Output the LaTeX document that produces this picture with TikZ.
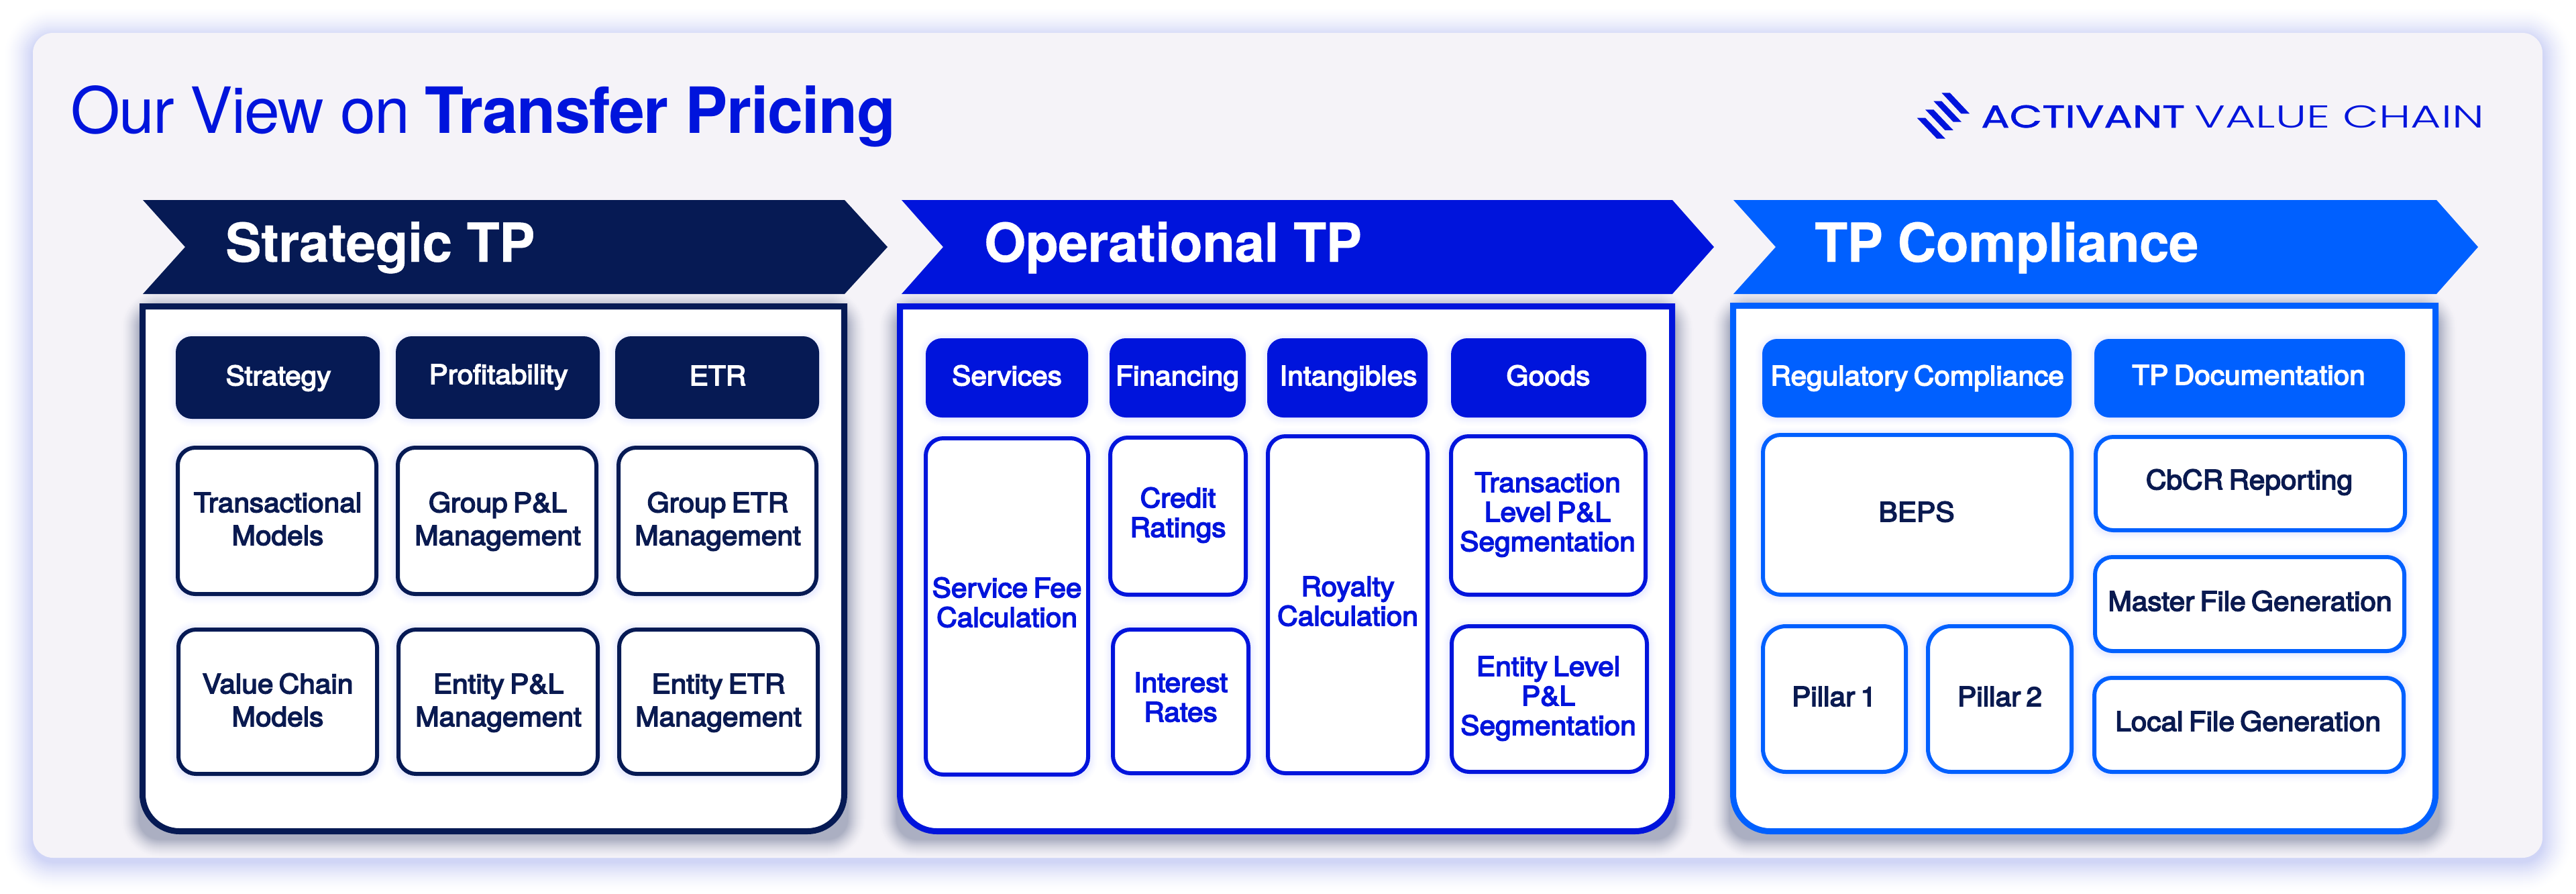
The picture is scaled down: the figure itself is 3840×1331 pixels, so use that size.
\documentclass[tikz,border=0pt]{standalone}
\usepackage{fontspec}
\setmainfont{TeX Gyre Heros}
\newfontfamily\titleface[LetterSpace=-2.1,BoldFeatures={LetterSpace=-1.5}]{TeX Gyre Heros}
\newfontfamily\chevface[LetterSpace=-0.7,FakeBold=0.5]{TeX Gyre Heros Bold}
\newfontfamily\cellface[FakeBold=4,FakeStretch=1.06,WordSpace=0.7]{TeX Gyre Heros}
\newfontfamily\logoboldface[FakeBold=1.5,FakeStretch=1.34]{Poppins}
\newfontfamily\logolightface[FakeStretch=1.485]{Poppins Light}
\definecolor{navy}{HTML}{061A54}
\definecolor{royal}{HTML}{0014DC}
\definecolor{bright}{HTML}{0060FF}
\definecolor{panelbg}{HTML}{F5F3F8}
\definecolor{glowpanel}{HTML}{D0D5F6}
\definecolor{glowbox}{HTML}{ABAFC2}
\definecolor{glowcell}{HTML}{ECEEFF}
\definecolor{inktext}{HTML}{0A1A50}
% soft shadow in opaque steps: x1 y1 x2 y2 radius spread dy inner-colour bg-colour
\newcommand{\softglow}[9]{%
  \foreach \gi in {#6,...,1}{%
    \pgfmathsetmacro{\gr}{#5+\gi}%
    \pgfmathtruncatemacro{\gt}{100*((#6-\gi+1)/#6)^1.6}%
    \fill[{#8!\gt!#9},rounded corners=\gr pt]
      ({#1-\gi},{#2-\gi+#7}) rectangle ({#3+\gi},{#4+\gi+#7});
  }%
}
% cell: name x1 y1 x2 y2 style radius
\newcommand{\mkcell}[7]{%
  \softglow{#2}{#3}{#4}{#5}{#7}{12}{1}{glowcell}{white}
  \pgfmathsetmacro{\cw}{#4-#2-6}%
  \pgfmathsetmacro{\ch}{#5-#3-6}%
  \node[#6,rounded corners=#7 pt,minimum width=\cw pt,minimum height=\ch pt] (#1) at ({(#2+#4)/2},{(#3+#5)/2}) {};
}
\newcommand{\mkhead}[7]{%
  \softglow{#2}{#3}{#4}{#5}{#7}{12}{1}{glowcell}{white}
  \pgfmathsetmacro{\cw}{#4-#2}%
  \pgfmathsetmacro{\ch}{#5-#3}%
  \node[#6,rounded corners=#7 pt,minimum width=\cw pt,minimum height=\ch pt] (#1) at ({(#2+#4)/2},{(#3+#5)/2}) {};
}
% container box: x1 y1 x2 y2 colour
\newcommand{\mkbox}[5]{%
  \draw[#5,line width=9pt,fill=white,line join=miter]
    ({#1+4.5},{#2+4.5}) -- ({#3-4.5},{#2+4.5})
    {[rounded corners=55pt] -- ({#3-4.5},{#4-4.5}) -- ({#1+4.5},{#4-4.5})} -- cycle;
}
% chevron: x-left notch shoulder tip colour
\newcommand{\mkchev}[5]{%
  \fill[#5] (#1,298) -- (#3,298) -- (#4,368) -- (#3,438) -- (#1,438) -- (#2,368) -- cycle;
}
\tikzset{
  x=1pt,y=-1pt,
  headbox/.style={rectangle,inner sep=0pt,fill=#1,draw=none},
  cellbox/.style={rectangle,inner sep=0pt,fill=white,draw=#1,line width=6pt},
  celltext/.style={anchor=base,inner sep=0pt,align=center,text=#1,font=\cellface\fontsize{40}{44}\selectfont},
  cellwide/.style={anchor=base,inner sep=0pt,align=center,text=#1,font=\cellface\fontsize{40}{49}\selectfont},
  headtext/.style={anchor=base,inner sep=0pt,text=white,font=\cellface\fontsize{40}{44}\selectfont},
  chevtext/.style={anchor=base west,inner sep=0pt,text=white,font=\chevface\fontsize{80}{88}\selectfont},
  logotext/.style={anchor=base west,inner sep=0pt,text=royal},
}
\begin{document}
\begin{tikzpicture}
\useasboundingbox (0,0) rectangle (3840,1331);
\fill[white] (0,0) rectangle (3840,1331);
% panel
\softglow{49}{49}{3790}{1278}{30}{44}{6}{glowpanel}{white}
\fill[panelbg,rounded corners=30pt] (49,49) rectangle (3790,1278);
% box shadows
\softglow{208}{452}{1263}{1243}{30}{28}{7}{glowbox}{panelbg}
\softglow{1337}{452}{2497}{1243}{30}{28}{7}{glowbox}{panelbg}
\softglow{2579}{451}{3635}{1243}{30}{28}{7}{glowbox}{panelbg}
% title
\node[anchor=base west,inner sep=0pt,text=royal,font=\titleface\fontsize{95}{100}\selectfont] (title) at (105,198) {Our View on \textbf{Transfer Pricing}};
% logo
\fill[royal] (2894.3,138.3) -- (2906.7,138.3) -- (2936,169.3) -- (2923.3,169.3) -- cycle;
\fill[royal] (2882.3,150.7) -- (2894.3,150.7) -- (2924,181.7) -- (2911.7,181.7) -- cycle;
\fill[royal] (2870,163.3) -- (2882.3,163.3) -- (2911.7,194) -- (2899.3,194) -- cycle;
\fill[royal] (2857.7,175.7) -- (2870,175.7) -- (2900,206.7) -- (2887.3,206.7) -- cycle;
\node[logotext,font=\logoboldface\fontsize{47}{50}\selectfont] (logoa) at (2953,190) {ACTIVANT};
\node[logotext,font=\logolightface\fontsize{47}{50}\selectfont] (logob) at (3271,190) {VALUE CHAIN};
% chevrons
\mkchev{213}{276}{1259}{1323}{navy}
\mkchev{1344}{1406}{2493}{2555}{royal}
\mkchev{2584}{2647}{3632}{3694}{bright}
\node[chevtext] (chevA) at (336,390) {Strategic TP};
\node[chevtext] (chevB) at (1467,390) {Operational TP};
\node[chevtext] (chevC) at (2705,390) {TP Compliance};
% containers
\mkbox{208}{452}{1263}{1243}{navy}
\mkbox{1337}{452}{2497}{1243}{royal}
\mkbox{2579}{451}{3635}{1243}{bright}
% strategic headers
\mkhead{h11}{262}{501}{566}{624}{headbox=navy}{24}
\mkhead{h12}{590}{501}{894}{624}{headbox=navy}{24}
\mkhead{h13}{917}{501}{1221}{624}{headbox=navy}{24}
\node[headtext] (h11t) at (415,574) {Strategy};
\node[headtext] (h12t) at (743,572) {Profitability};
\node[headtext] (h13t) at (1070,574) {ETR};
% strategic cells
\mkcell{c11}{262}{664}{564}{888}{cellbox=navy}{26}
\mkcell{c12}{590}{664}{892}{888}{cellbox=navy}{26}
\mkcell{c13}{919}{664}{1220}{888}{cellbox=navy}{26}
\mkcell{c21}{263}{935}{565}{1156}{cellbox=navy}{26}
\mkcell{c22}{591}{935}{894}{1156}{cellbox=navy}{26}
\mkcell{c23}{920}{935}{1222}{1156}{cellbox=navy}{26}
\node[cellwide=inktext] (c11t) at (414,812) {Transactional\\Models};
\node[cellwide=inktext] (c12t) at (742,812) {Group P\&L\\Management};
\node[cellwide=inktext] (c13t) at (1070,812) {Group ETR\\Management};
\node[cellwide=inktext] (c21t) at (414,1082) {Value Chain\\Models};
\node[cellwide=inktext] (c22t) at (743,1082) {Entity P\&L\\Management};
\node[cellwide=inktext] (c23t) at (1071,1082) {Entity ETR\\Management};
% operational headers
\mkhead{h21}{1380}{504}{1622}{622}{headbox=royal}{24}
\mkhead{h22}{1654}{504}{1857}{622}{headbox=royal}{24}
\mkhead{h23}{1889}{504}{2128}{622}{headbox=royal}{24}
\mkhead{h24}{2163}{504}{2454}{622}{headbox=royal}{24}
\node[headtext] (h21t) at (1501,574) {Services};
\node[headtext] (h22t) at (1755,574) {Financing};
\node[headtext] (h23t) at (2010,574) {Intangibles};
\node[headtext] (h24t) at (2308,574) {Goods};
% operational cells
\mkcell{o1}{1377}{650}{1625}{1157}{cellbox=royal}{26}
\mkcell{o2}{1652}{649}{1860}{889}{cellbox=royal}{26}
\mkcell{o3}{1656}{935}{1864}{1155}{cellbox=royal}{26}
\mkcell{o4}{1887}{647}{2131}{1155}{cellbox=royal}{26}
\mkcell{o5}{2160}{647}{2456}{889}{cellbox=royal}{26}
\mkcell{o6}{2161}{930}{2458}{1153}{cellbox=royal}{26}
\node[celltext=royal] (o1t) at (1501,934) {Service Fee\\Calculation};
\node[celltext=royal] (o2t) at (1756,800) {Credit\\Ratings};
\node[celltext=royal] (o3t) at (1760,1075) {Interest\\Rates};
\node[celltext=royal] (o4t) at (2009,932) {Royalty\\Calculation};
\node[celltext=royal] (o5t) at (2307,821) {Transaction\\Level P\&L\\Segmentation};
\node[celltext=royal] (o6t) at (2308,1095) {Entity Level\\P\&L\\Segmentation};
% compliance headers
\mkhead{h31}{2627}{505}{3088}{622}{headbox=bright}{22}
\mkhead{h32}{3122}{505}{3585}{622}{headbox=bright}{22}
\node[headtext] (h31t) at (2858,574) {Regulatory Compliance};
\node[headtext] (h32t) at (3352,573) {TP Documentation};
% compliance cells
\mkcell{p1}{2625}{645}{3091}{889}{cellbox=bright}{26}
\mkcell{p2}{2625}{930}{2844}{1153}{cellbox=bright}{34}
\mkcell{p3}{2871}{930}{3091}{1153}{cellbox=bright}{34}
\mkcell{p4}{3121}{648}{3588}{793}{cellbox=bright}{26}
\mkcell{p5}{3120}{827}{3587}{973}{cellbox=bright}{26}
\mkcell{p6}{3119}{1007}{3586}{1153}{cellbox=bright}{26}
\node[headtext,text=inktext] (p1t) at (2857,777) {BEPS};
\node[headtext,text=inktext] (p2t) at (2734,1052) {Pillar 1};
\node[headtext,text=inktext] (p3t) at (2981,1052) {Pillar 2};
\node[headtext,text=inktext] (p4t) at (3353,729) {CbCR Reporting};
\node[headtext,text=inktext] (p5t) at (3354,910) {Master File Generation};
\node[headtext,text=inktext] (p6t) at (3351,1089) {Local File Generation};
\end{tikzpicture}
\end{document}
